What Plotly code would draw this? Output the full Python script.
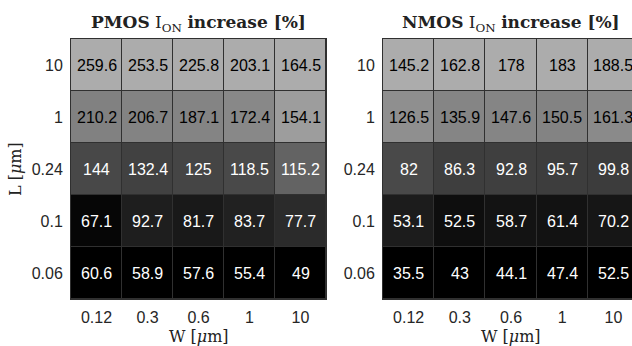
import plotly.graph_objects as go

W_labels = ["0.12", "0.3", "0.6", "1", "10"]
L_labels = ["10", "1", "0.24", "0.1", "0.06"]

pmos = [
    [259.6, 253.5, 225.8, 203.1, 164.5],
    [210.2, 206.7, 187.1, 172.4, 154.1],
    [144, 132.4, 125, 118.5, 115.2],
    [67.1, 92.7, 81.7, 83.7, 77.7],
    [60.6, 58.9, 57.6, 55.4, 49],
]
nmos = [
    [145.2, 162.8, 178, 183, 188.5],
    [126.5, 135.9, 147.6, 150.5, 161.3],
    [82, 86.3, 92.8, 95.7, 99.8],
    [53.1, 52.5, 58.7, 61.4, 70.2],
    [35.5, 43, 44.1, 47.4, 52.5],
]

W, H = 632, 346
SANS = "Liberation Sans, Arial, sans-serif"
SERIF = "DejaVu Serif, serif"
GRID = "#303030"
GRAY_MAX = "#acacac"


def colnorm(data):
    nr, nc = len(data), len(data[0])
    out = [[0.0] * nc for _ in range(nr)]
    for j in range(nc):
        col = [data[i][j] for i in range(nr)]
        lo, hi = min(col), max(col)
        for i in range(nr):
            out[i][j] = (data[i][j] - lo) / (hi - lo)
    return out


def px_x(p):
    return p / W


def px_y(p):
    return 1 - p / H


fig = go.Figure()
annotations = []

panels = [
    (pmos, "x", "y", (71, 326), "<b>PMOS</b> I<sub>ON</sub> <b>increase [%]</b>"),
    (nmos, "x2", "y2", (383, 639), "<b>NMOS</b> I<sub>ON</sub> <b>increase [%]</b>"),
]
top, bot = 39, 299

for k, (data, xa, ya, (x0, x1), title) in enumerate(panels):
    z = colnorm(data)
    fig.add_trace(go.Heatmap(
        z=z, x=list(range(5)), y=list(range(5)),
        colorscale=[[0, "#000000"], [1, GRAY_MAX]], zmin=0, zmax=1,
        showscale=False, xgap=1, ygap=1, hoverinfo="skip",
        xaxis=xa, yaxis=ya,
    ))
    for i in range(5):
        for j in range(5):
            v = data[i][j]
            annotations.append(dict(
                x=j, y=i, xref=xa, yref=ya, text=f"{v:g}", showarrow=False,
                font=dict(family=SANS, size=16,
                          color="#000000" if z[i][j] > 0.6 else "#ffffff"),
            ))
    cx = (x0 + x1) / 2
    annotations.append(dict(
        x=px_x(cx), y=px_y(23), xref="paper", yref="paper", text=title,
        showarrow=False, xanchor="center", yanchor="middle",
        font=dict(family=SERIF, size=17, color="#222222"),
    ))
    annotations.append(dict(
        x=px_x(cx), y=px_y(336), xref="paper", yref="paper",
        text="W [<i>μ</i>m]", showarrow=False, xanchor="center", yanchor="middle",
        font=dict(family=SERIF, size=16, color="#222222"),
    ))

annotations.append(dict(
    x=px_x(15), y=px_y(169), xref="paper", yref="paper",
    text="L [<i>μ</i>m]", showarrow=False, textangle=-90,
    xanchor="center", yanchor="middle",
    font=dict(family=SERIF, size=16, color="#222222"),
))

vis = (W - 383) / (639 - 383)
ax_common = dict(showgrid=False, zeroline=False, ticks="outside", ticklen=4,
                 tickcolor="rgba(0,0,0,0)",
                 tickfont=dict(family=SANS, size=16, color="#262626"))

fig.update_layout(
    width=W, height=H, margin=dict(l=0, r=0, t=0, b=0),
    paper_bgcolor="white", plot_bgcolor=GRID,
    annotations=annotations,
    xaxis=dict(domain=[px_x(71), px_x(326)], range=[-0.5, 4.5],
               tickvals=list(range(5)), ticktext=W_labels,
               showline=True, linecolor=GRID, linewidth=1, mirror=True,
               anchor="y", **ax_common),
    yaxis=dict(domain=[px_y(bot), px_y(top)], range=[4.5, -0.5],
               tickvals=list(range(5)), ticktext=L_labels,
               showline=True, linecolor=GRID, linewidth=1, mirror=True,
               anchor="x", **ax_common),
    xaxis2=dict(domain=[px_x(383), 1.0], range=[-0.5, -0.5 + 5 * vis],
                tickvals=list(range(5)), ticktext=W_labels,
                showline=True, linecolor=GRID, linewidth=1, mirror=True,
                anchor="y2", **ax_common),
    yaxis2=dict(domain=[px_y(bot), px_y(top)], range=[4.5, -0.5],
                tickvals=list(range(5)), ticktext=L_labels,
                showline=True, linecolor=GRID, linewidth=1, mirror=False,
                anchor="x2", **ax_common),
)

fig.write_html(
    "out.html",
    config={"displayModeBar": False},
    post_script="document.body.style.margin='0';document.body.style.overflow='hidden';",
)
